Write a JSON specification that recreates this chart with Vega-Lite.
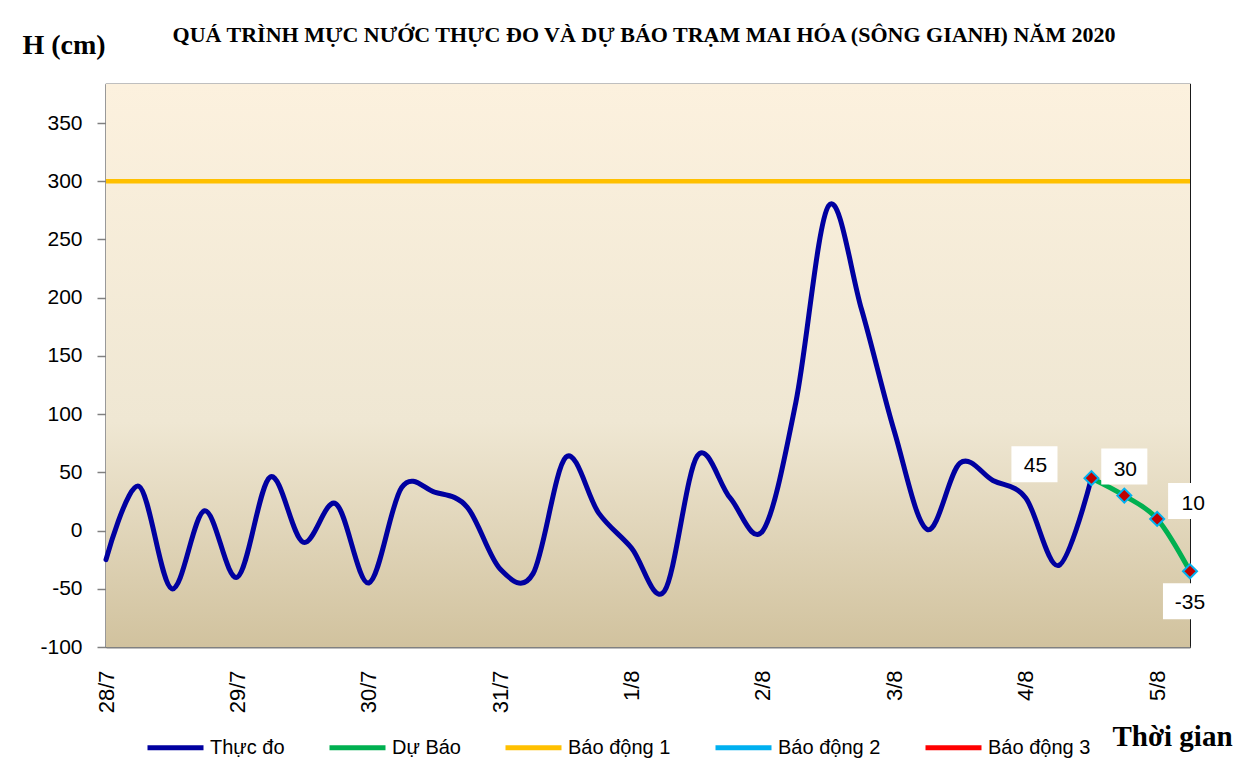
{
  "$schema": "https://vega.github.io/schema/vega-lite/v6.json",
  "width": 1084,
  "height": 563,
  "autosize": {"type": "none"},
  "padding": {"left": 106, "top": 84, "right": 69, "bottom": 131},
  "background": "white",
  "title": {
    "text": "QUÁ TRÌNH MỰC NƯỚC THỰC ĐO VÀ DỰ BÁO TRẠM MAI HÓA (SÔNG GIANH) NĂM 2020",
    "font": "Liberation Serif",
    "fontSize": 22,
    "fontWeight": "bold",
    "color": "black",
    "anchor": "middle",
    "frame": "group",
    "baseline": "alphabetic",
    "offset": -33,
    "dx": -4
  },
  "config": {
    "view": {"stroke": "#000000", "strokeWidth": 1.2}
  },
  "data": {
    "values": [
      {"series": "Thực đo", "t": "2020-07-28T00:00:00Z", "h": -25},
      {"series": "Thực đo", "t": "2020-07-28T06:00:00Z", "h": 38},
      {"series": "Thực đo", "t": "2020-07-28T12:00:00Z", "h": -50},
      {"series": "Thực đo", "t": "2020-07-28T18:00:00Z", "h": 17},
      {"series": "Thực đo", "t": "2020-07-29T00:00:00Z", "h": -40},
      {"series": "Thực đo", "t": "2020-07-29T06:00:00Z", "h": 46},
      {"series": "Thực đo", "t": "2020-07-29T12:00:00Z", "h": -10},
      {"series": "Thực đo", "t": "2020-07-29T18:00:00Z", "h": 23},
      {"series": "Thực đo", "t": "2020-07-30T00:00:00Z", "h": -45},
      {"series": "Thực đo", "t": "2020-07-30T06:00:00Z", "h": 37},
      {"series": "Thực đo", "t": "2020-07-30T12:00:00Z", "h": 33},
      {"series": "Thực đo", "t": "2020-07-30T18:00:00Z", "h": 20},
      {"series": "Thực đo", "t": "2020-07-31T00:00:00Z", "h": -33},
      {"series": "Thực đo", "t": "2020-07-31T06:00:00Z", "h": -37},
      {"series": "Thực đo", "t": "2020-07-31T12:00:00Z", "h": 63},
      {"series": "Thực đo", "t": "2020-07-31T18:00:00Z", "h": 15},
      {"series": "Thực đo", "t": "2020-08-01T00:00:00Z", "h": -15},
      {"series": "Thực đo", "t": "2020-08-01T06:00:00Z", "h": -52},
      {"series": "Thực đo", "t": "2020-08-01T12:00:00Z", "h": 64},
      {"series": "Thực đo", "t": "2020-08-01T18:00:00Z", "h": 28},
      {"series": "Thực đo", "t": "2020-08-02T00:00:00Z", "h": 0},
      {"series": "Thực đo", "t": "2020-08-02T06:00:00Z", "h": 110},
      {"series": "Thực đo", "t": "2020-08-02T12:00:00Z", "h": 279},
      {"series": "Thực đo", "t": "2020-08-02T18:00:00Z", "h": 190},
      {"series": "Thực đo", "t": "2020-08-03T00:00:00Z", "h": 85},
      {"series": "Thực đo", "t": "2020-08-03T06:00:00Z", "h": 1},
      {"series": "Thực đo", "t": "2020-08-03T12:00:00Z", "h": 58},
      {"series": "Thực đo", "t": "2020-08-03T18:00:00Z", "h": 43},
      {"series": "Thực đo", "t": "2020-08-04T00:00:00Z", "h": 28},
      {"series": "Thực đo", "t": "2020-08-04T06:00:00Z", "h": -30},
      {"series": "Thực đo", "t": "2020-08-04T12:00:00Z", "h": 45},
      {"series": "Dự Báo", "t": "2020-08-04T12:00:00Z", "h": 45},
      {"series": "Dự Báo", "t": "2020-08-04T18:00:00Z", "h": 30},
      {"series": "Dự Báo", "t": "2020-08-05T00:00:00Z", "h": 10},
      {"series": "Dự Báo", "t": "2020-08-05T06:00:00Z", "h": -35},
      {"series": "Báo động 1", "level": 300},
      {"series": "Báo động 2", "level": 450},
      {"series": "Báo động 3", "level": 600}
    ]
  },
  "layer": [
    {
      "transform": [{"filter": "datum.level == 300"}],
      "mark": {
        "type": "rect",
        "color": {
          "gradient": "linear",
          "x1": 0, "y1": 0, "x2": 0, "y2": 1,
          "stops": [
            {"offset": 0, "color": "#FCF1DE"},
            {"offset": 0.6, "color": "#EFE7D3"},
            {"offset": 1, "color": "#D1C29E"}
          ]
        }
      },
      "encoding": {
        "x": {"datum": {"year": 2020, "month": 7, "date": 28, "hours": 0, "utc": true}, "type": "temporal"},
        "x2": {"datum": {"year": 2020, "month": 8, "date": 5, "hours": 6, "utc": true}},
        "y": {"datum": 383.5, "type": "quantitative"},
        "y2": {"datum": -100}
      }
    },
    {
      "transform": [{"filter": "datum.level != null"}],
      "mark": {"type": "rule", "strokeWidth": 4.5, "clip": true},
      "encoding": {
        "y": {"field": "level", "type": "quantitative"},
        "color": {"field": "series", "type": "nominal"}
      }
    },
    {
      "transform": [{"filter": "datum.t != null"}],
      "mark": {"type": "line", "interpolate": "cardinal", "strokeWidth": 5, "strokeCap": "round", "strokeJoin": "round"},
      "encoding": {
        "x": {
          "field": "t", "type": "temporal",
          "scale": {"type": "utc", "nice": false, "domain": [{"year": 2020, "month": 7, "date": 28, "hours": 0, "utc": true}, {"year": 2020, "month": 8, "date": 5, "hours": 6, "utc": true}]},
          "axis": {
            "title": "Thời gian",
            "values": [1595894400000, 1595916000000, 1595937600000, 1595959200000, 1595980800000, 1596002400000, 1596024000000, 1596045600000, 1596067200000, 1596088800000, 1596110400000, 1596132000000, 1596153600000, 1596175200000, 1596196800000, 1596218400000, 1596240000000, 1596261600000, 1596283200000, 1596304800000, 1596326400000, 1596348000000, 1596369600000, 1596391200000, 1596412800000, 1596434400000, 1596456000000, 1596477600000, 1596499200000, 1596520800000, 1596542400000, 1596564000000, 1596585600000, 1596607200000],
            "labelExpr": "utchours(datum.value) == 0 ? utcFormat(datum.value, '%-d/%-m') : ''",
            "labelAngle": -90,
            "labelFont": "Liberation Sans",
            "labelFontSize": 22,
            "labelColor": "black",
            "labelOverlap": false,
            "labelFlush": false,
            "labelPadding": 30,
            "tickSize": -7,
            "tickColor": "#808080",
            "tickWidth": 1.5,
            "domainColor": "#808080",
            "domainWidth": 2,
            "grid": false,
            "titleAngle": 0,
            "titleX": 1006,
            "titleY": 98,
            "titleAlign": "left",
            "titleBaseline": "alphabetic",
            "titleFont": "Liberation Serif",
            "titleFontSize": 29,
            "titleFontWeight": "bold",
            "titleColor": "black"
          }
        },
        "y": {
          "field": "h", "type": "quantitative",
          "scale": {"domain": [-100, 383.5], "nice": false, "zero": false},
          "axis": {
            "title": "H (cm)",
            "values": [-100, -50, 0, 50, 100, 150, 200, 250, 300, 350],
            "labelExpr": "'' + datum.value",
            "labelFont": "Liberation Sans",
            "labelFontSize": 21,
            "labelColor": "black",
            "labelPadding": 15,
            "tickSize": 9,
            "tickColor": "#808080",
            "tickWidth": 1.5,
            "domainColor": "#808080",
            "domainWidth": 2,
            "grid": false,
            "titleAngle": 0,
            "titleX": -84,
            "titleY": -31,
            "titleAlign": "left",
            "titleBaseline": "alphabetic",
            "titleFont": "Liberation Serif",
            "titleFontSize": 28,
            "titleFontWeight": "bold",
            "titleColor": "black"
          }
        },
        "color": {
          "field": "series", "type": "nominal",
          "scale": {
            "domain": ["Thực đo", "Dự Báo", "Báo động 1", "Báo động 2", "Báo động 3"],
            "range": ["#0000A0", "#00B050", "#FFC000", "#00B0F0", "#FF0000"]
          },
          "legend": {
            "title": null,
            "orient": "none",
            "legendX": 39,
            "legendY": 633,
            "direction": "horizontal",
            "columns": 5,
            "symbolType": "stroke",
            "symbolSize": 3136,
            "symbolStrokeWidth": 5,
            "labelFont": "Liberation Sans",
            "labelFontSize": 20,
            "labelColor": "black",
            "labelOffset": 4,
            "columnPadding": 34,
            "padding": 0
          }
        }
      }
    },
    {
      "transform": [{"filter": "datum.series == 'Dự Báo'"}],
      "mark": {"type": "point", "shape": "diamond", "filled": true, "fill": "#C00000", "stroke": "#00B0F0", "strokeWidth": 2, "size": 196, "opacity": 1},
      "encoding": {
        "x": {"field": "t", "type": "temporal"},
        "y": {"field": "h", "type": "quantitative"}
      }
    },
    {
      "transform": [{"filter": "datum.series == 'Dự Báo' && datum.h == 45"}],
      "encoding": {
        "x": {"field": "t", "type": "temporal"},
        "y": {"field": "h", "type": "quantitative"}
      },
      "layer": [
        {"mark": {"type": "point", "shape": "M-1.28,-1H1.28V1H-1.28Z", "size": 1296, "filled": true, "fill": "white", "opacity": 1, "strokeWidth": 0, "xOffset": -57, "yOffset": -14}},
        {"mark": {"type": "text", "font": "Liberation Sans", "fontSize": 21, "color": "black", "align": "center", "baseline": "middle", "dx": -56, "dy": -12}, "encoding": {"text": {"field": "h", "type": "nominal"}}}
      ]
    },
    {
      "transform": [{"filter": "datum.series == 'Dự Báo' && datum.h == 30"}],
      "encoding": {
        "x": {"field": "t", "type": "temporal"},
        "y": {"field": "h", "type": "quantitative"}
      },
      "layer": [
        {"mark": {"type": "point", "shape": "M-1.28,-1H1.28V1H-1.28Z", "size": 1296, "filled": true, "fill": "white", "opacity": 1, "strokeWidth": 0, "xOffset": 0, "yOffset": -29}},
        {"mark": {"type": "text", "font": "Liberation Sans", "fontSize": 21, "color": "black", "align": "center", "baseline": "middle", "dx": 1, "dy": -26}, "encoding": {"text": {"field": "h", "type": "nominal"}}}
      ]
    },
    {
      "transform": [{"filter": "datum.series == 'Dự Báo' && datum.h == 10"}],
      "encoding": {
        "x": {"field": "t", "type": "temporal"},
        "y": {"field": "h", "type": "quantitative"}
      },
      "layer": [
        {"mark": {"type": "point", "shape": "M-1.28,-1H1.28V1H-1.28Z", "size": 1296, "filled": true, "fill": "white", "opacity": 1, "strokeWidth": 0, "xOffset": 34, "yOffset": -18}},
        {"mark": {"type": "text", "font": "Liberation Sans", "fontSize": 21, "color": "black", "align": "center", "baseline": "middle", "dx": 36, "dy": -15}, "encoding": {"text": {"field": "h", "type": "nominal"}}}
      ]
    },
    {
      "transform": [{"filter": "datum.series == 'Dự Báo' && datum.h == -35"}],
      "encoding": {
        "x": {"field": "t", "type": "temporal"},
        "y": {"field": "h", "type": "quantitative"}
      },
      "layer": [
        {"mark": {"type": "point", "shape": "M-1.28,-1H1.28V1H-1.28Z", "size": 1296, "filled": true, "fill": "white", "opacity": 1, "strokeWidth": 0, "xOffset": -4, "yOffset": 30}},
        {"mark": {"type": "text", "font": "Liberation Sans", "fontSize": 21, "color": "black", "align": "center", "baseline": "middle", "dx": 0, "dy": 32}, "encoding": {"text": {"field": "h", "type": "nominal"}}}
      ]
    }
  ]
}
